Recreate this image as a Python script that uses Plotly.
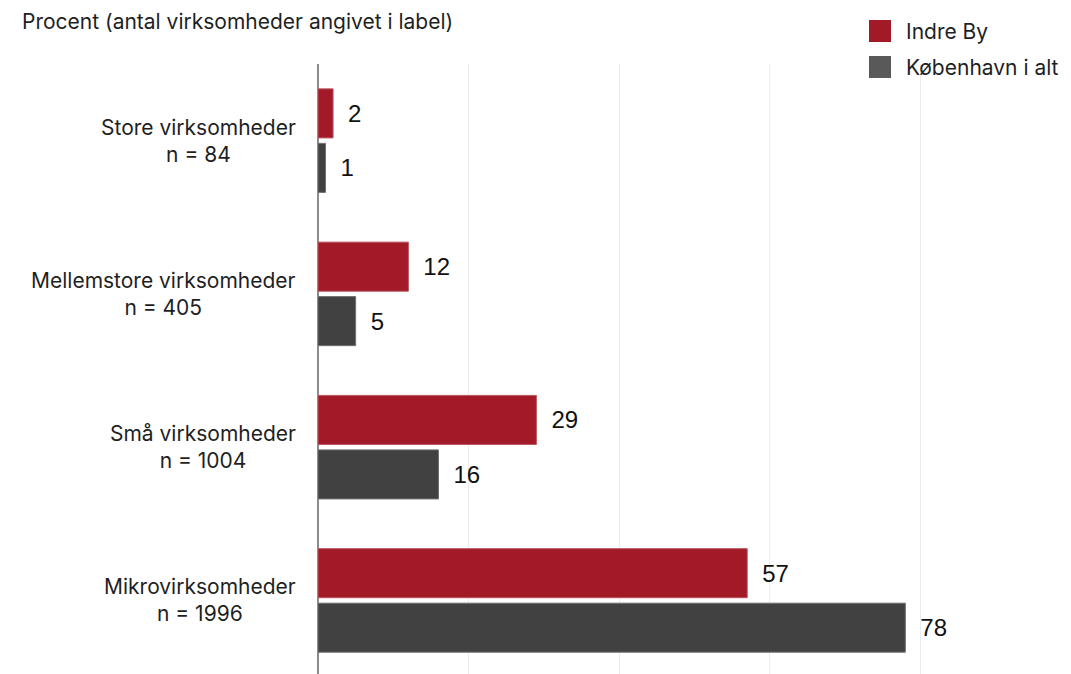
import plotly.graph_objects as go

# Data: share of companies (%) by size group
categories = ["Store virksomheder", "Mellemstore virksomheder", "Små virksomheder", "Mikrovirksomheder"]
n_counts = [84, 405, 1004, 1996]
indre_by = [2, 12, 29, 57]
kbh_i_alt = [1, 5, 16, 78]
series_names = ["Indre By", "København i alt"]

RED = "#A21927"
DARK = "#414141"
LEGEND_DARK = "#595959"
TEXT = "#1f1f1f"
LABEL_FONT = "Inter"
LABEL_SIZE = 21
NUM_FONT = "Liberation Sans"

fig = go.Figure()
fig.add_trace(go.Bar(
    y=categories, x=indre_by, orientation="h", name=series_names[0],
    marker=dict(color=RED, line=dict(color="#b8545e", width=1)),
    text=indre_by, texttemplate="\u2002%{x}", textposition="outside",
    textfont=dict(family=NUM_FONT, size=24, color="#111"),
    cliponaxis=False, showlegend=False,
))
fig.add_trace(go.Bar(
    y=categories, x=kbh_i_alt, orientation="h", name=series_names[1],
    marker=dict(color=DARK, line=dict(color="#707070", width=1)),
    text=kbh_i_alt, texttemplate="\u2002%{x}", textposition="outside",
    textfont=dict(family=NUM_FONT, size=24, color="#111"),
    cliponaxis=False, showlegend=False,
))

# Category labels, centred two-line text left of the axis
for cat, n in zip(categories, n_counts):
    fig.add_annotation(
        xref="paper", x=0, xshift=-20, xanchor="right",
        yref="y", y=cat, yanchor="middle",
        text=f"{cat}<br>n = {n}", align="center", showarrow=False,
        font=dict(family=LABEL_FONT, size=LABEL_SIZE, color=TEXT),
    )

# Axis caption
fig.add_annotation(
    xref="paper", x=-298 / 753, xanchor="left",
    yref="paper", y=1 + 42 / 610, yanchor="middle",
    text="Procent (antal virksomheder angivet i label)", showarrow=False,
    font=dict(family=LABEL_FONT, size=LABEL_SIZE, color=TEXT),
)

# Legend drawn as swatches + text
leg_colors = [RED, LEGEND_DARK]
for i, (name, col) in enumerate(zip(series_names, leg_colors)):
    top = 20 + 36 * i
    fig.add_shape(
        type="rect", xref="paper", yref="paper",
        x0=(869 - 318) / 753, x1=(891 - 318) / 753,
        y0=(674 - top) / 610, y1=(674 - top - 22) / 610,
        fillcolor=col, line=dict(width=0),
    )
    fig.add_annotation(
        xref="paper", x=(904 - 318) / 753, xanchor="left",
        yref="paper", y=(674 - top - 11) / 610, yanchor="middle",
        text=name, showarrow=False,
        font=dict(family=LABEL_FONT, size=LABEL_SIZE, color=TEXT),
    )

fig.update_layout(
    width=1071, height=674,
    margin=dict(l=318, r=0, t=64, b=0),
    paper_bgcolor="white", plot_bgcolor="white",
    barmode="group", bargap=0.289, bargroupgap=0.1,
    xaxis=dict(
        range=[0, 100], dtick=20, showgrid=True, gridcolor="#ececec", gridwidth=1,
        showticklabels=False, zeroline=True, zerolinecolor="#8c8c8c", zerolinewidth=2,
        showline=False, fixedrange=True,
    ),
    yaxis=dict(
        categoryorder="array", categoryarray=categories,
        range=[3.48, -0.5], showticklabels=False, showgrid=False,
        showline=False, zeroline=False, fixedrange=True,
    ),
)

fig.write_html("out.html")
